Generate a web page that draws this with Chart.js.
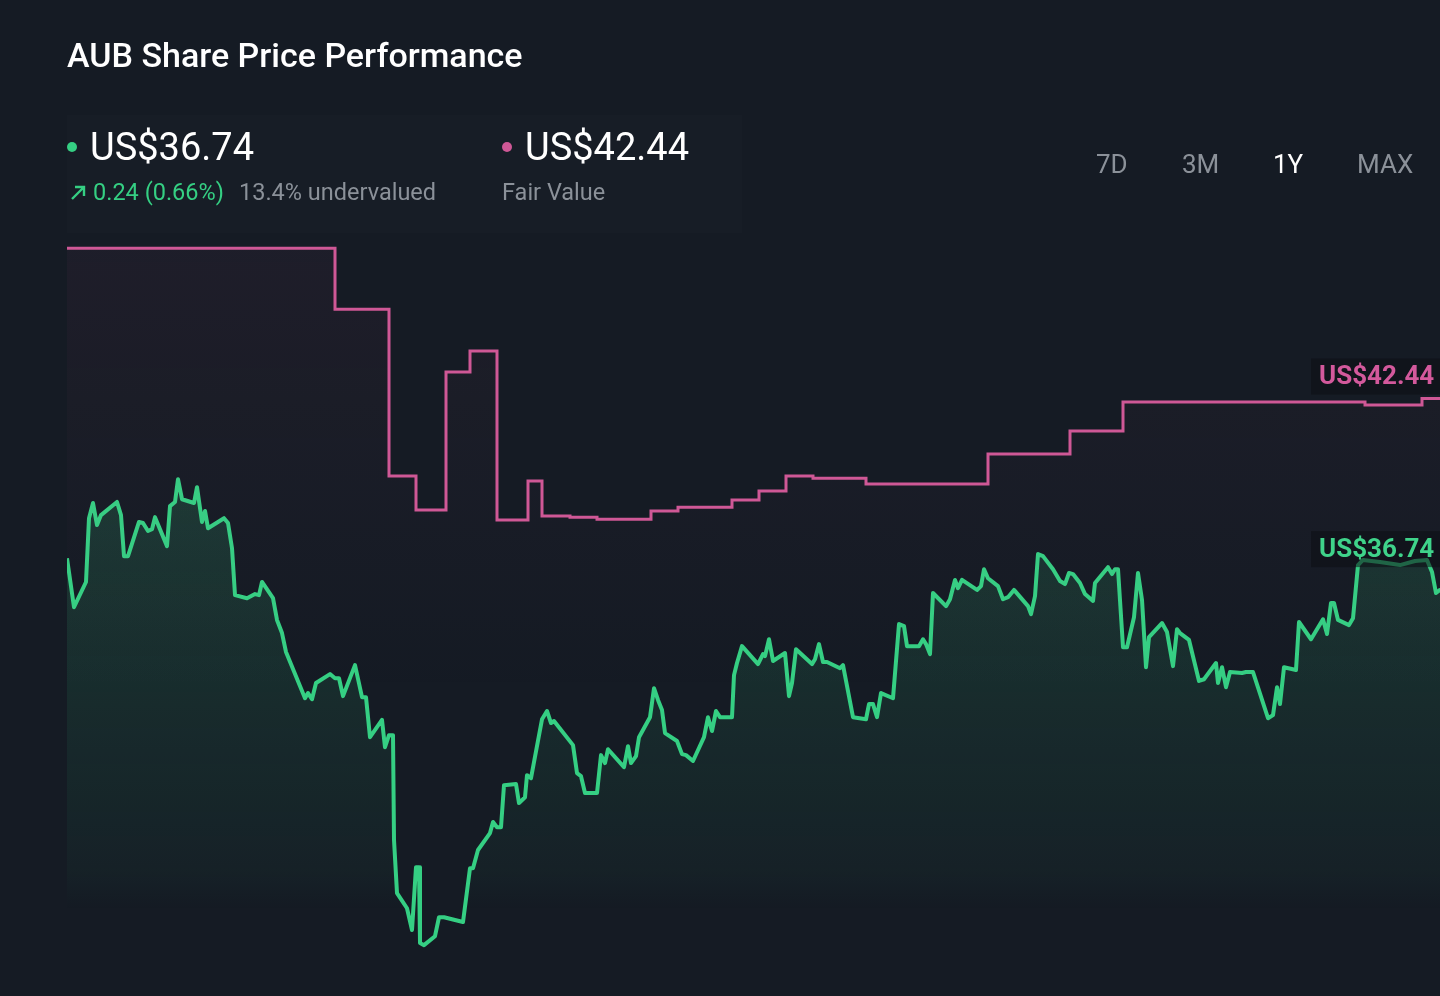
<!DOCTYPE html>
<html>
<head>
<meta charset="utf-8">
<script src="https://cdn.jsdelivr.net/npm/chart.js@4.4.1/dist/chart.umd.min.js"></script>
<style>
  html, body { margin:0; padding:0; background:#151b24; overflow:hidden; }
  body { width:1440px; height:996px; position:relative; font-family: Roboto, "Noto Sans", sans-serif; }
  #wrap { position:absolute; left:0; top:0; width:1440px; height:996px; overflow:hidden; }
  #chart { position:absolute; left:0; top:0; }
  .t { position:absolute; white-space:nowrap; }
  #title { left:67px; top:34px; font-size:34px; font-weight:500; color:#ffffff; line-height:42px; }
  #panel { position:absolute; left:67px; top:115px; width:675px; height:118px; background:rgba(255,255,255,0.012); }
  .big { font-size:38px; color:#ffffff; line-height:44px; top:125px; }
  .sub { font-size:23.5px; line-height:28px; top:178px; }
  .dot { position:absolute; width:10px; height:10px; border-radius:50%; }
  .tab { font-size:26px; line-height:30px; top:149px; color:#8b9199; }
</style>
</head>
<body>
<div id="wrap">
  <canvas id="chart" width="1470" height="1000"></canvas>
  <div id="panel"></div>
  <div class="t" id="title">AUB Share Price Performance</div>

  <div class="dot" style="left:67px;top:142px;background:#35cf83;"></div>
  <div class="t big" style="left:90px;">US$36.74</div>
  <svg style="position:absolute;left:70px;top:184px;" width="17" height="17" viewBox="0 0 17 17">
    <path d="M2 15 L14 3 M5 3 L14 3 L14 12" stroke="#35cf83" stroke-width="2.4" fill="none"/>
  </svg>
  <div class="t sub" style="left:93px;color:#35cf83;">0.24 (0.66%)</div>
  <div class="t sub" style="left:239px;color:#8b9199;">13.4% undervalued</div>

  <div class="dot" style="left:502px;top:142px;background:#cf5896;"></div>
  <div class="t big" style="left:525px;">US$42.44</div>
  <div class="t sub" style="left:502px;color:#8b9199;">Fair Value</div>

  <div class="t tab" style="left:1096px;">7D</div>
  <div class="t tab" style="left:1182px;">3M</div>
  <div class="t tab" style="left:1273px;color:#ffffff;">1Y</div>
  <div class="t tab" style="left:1357px;">MAX</div>
</div>
<script>
// Session index (≈ trading days over the year shown)
const priceDays = [0,1.4,3.8,4.4,5.2,6.0,6.8,10,10.8,11.4,12.2,14.4,15.2,16.2,17,17.6,20,20.6,21.6,22.2,23,25.4,26,27,27.6,28.2,31.4,32.2,33,33.6,36,37.6,38.4,39,41.2,42,43,43.8,47.6,48.2,49,49.8,52.6,53.6,54.4,55.2,57.6,59,59.8,60.6,63,63.6,64.4,65.2,65.4,66,68,69,69.8,70.4,70.6,71.4,73.6,74.4,75.4,79.2,80.6,81.2,82.2,84.6,85.2,86,86.8,87.4,89.8,90.4,91.6,92,92.8,95,96,96.8,97.4,101.2,102,102.8,103.6,106,106.8,107.6,108.2,111.4,112.2,112.8,113.8,114.4,116.6,117.4,118.2,119,119.6,122,123,123.8,125.2,127.4,128.2,129,129.8,130.6,133,133.4,134,135,138.2,139.2,139.6,140.4,141.2,143.6,144.4,145,145.8,149,149.6,150.4,151.2,152,154.6,155.2,157.2,159.8,160.4,161.2,162,162.8,165.2,166.4,167.4,168,170.4,171.2,171.8,172.6,173.2,175.8,176.6,177.6,178.2,179,182,182.8,183.4,184.2,186.2,187.2,188.2,189.4,192.2,192.8,193.6,194.2,195.2,197.2,198.6,199.6,200.4,201.2,202.6,203.6,205.2,205.6,208.2,209,209.6,210.2,211.2,212,213.4,214.2,215,215.8,216.4,219,220,221.2,222,222.6,224.4,226.4,227.4,229.8,230.2,231,231.8,232.6,235,235.8,237.2,240.2,241.2,242,242.6,243.4,245.8,246.4,248.8,251.2,252,252.8,253.4,254.2,256.4,257.2,258.2,259.2,262.6,266.6,269.6,272,273,273.8,274.6,277];
const priceValues = [37.81,36.39,37.12,38.97,39.41,38.77,39.06,39.44,39.06,37.87,37.87,38.86,38.83,38.60,38.65,39.00,38.16,39.32,39.44,40.10,39.52,39.41,39.87,38.86,39.18,38.68,38.97,38.83,38.10,36.74,36.65,36.77,36.74,37.12,36.65,36.02,35.64,35.09,33.75,33.90,33.72,34.19,34.45,34.33,34.33,33.81,34.71,33.78,33.78,32.62,33.12,32.33,32.68,32.68,29.64,28.10,27.66,27.03,28.85,28.85,26.65,26.59,26.85,27.40,27.40,27.26,28.82,28.82,29.35,29.84,30.16,30.01,30.01,31.23,31.26,30.71,30.88,31.52,31.43,33.14,33.38,33.03,33.09,32.39,31.58,31.49,31.00,31.00,32.10,31.87,32.27,31.75,32.36,31.87,32.07,32.62,33.20,34.04,33.70,33.41,32.74,32.51,32.13,32.10,31.93,32.62,33.20,32.80,33.38,33.20,33.20,34.42,34.77,35.26,34.74,35.03,34.97,35.46,34.83,35.06,33.81,34.19,35.17,34.74,34.88,35.32,34.80,34.80,34.62,34.71,33.20,33.14,33.58,33.58,33.20,33.90,33.75,35.90,35.84,35.26,35.26,35.46,35.32,35.03,36.80,36.42,36.62,37.18,36.94,37.18,36.89,37.00,37.49,37.23,37.00,36.62,36.68,36.89,36.42,36.19,36.71,37.93,37.87,37.49,37.15,37.06,37.38,37.35,37.09,36.77,36.57,37.09,37.55,37.35,37.49,37.49,35.23,35.23,36.10,37.38,36.60,34.65,35.52,35.93,35.67,34.68,35.75,35.64,35.44,34.25,34.30,34.77,34.19,34.65,34.07,34.51,34.48,34.51,34.51,33.17,33.26,34.07,33.58,34.65,34.57,35.96,35.46,36.04,35.61,36.51,36.51,36.02,35.87,36.07,37.61,37.76,37.70,37.61,37.73,37.76,37.41,36.80,36.89,36.74];

const fairDays = [0,53.6,64.4,69.8,75.8,80.6,86,92.2,95,100.6,106,116.8,122.2,133,138.4,143.8,149.2,159.8,184.2,200.6,211.2,259.6,271,277];
const fairValues = [46.80,45.03,40.19,39.21,43.21,43.82,38.92,40.05,39.03,39.00,38.94,39.18,39.29,39.50,39.76,40.19,40.13,39.96,40.83,41.50,42.34,42.25,42.44,42.44];

const lastPrice = 36.74;
const lastFair = 42.44;
const priceLabel = 'US$36.74';
const fairLabel = 'US$42.44';

const GREEN = '#35cf83';
const PINK = '#cf5896';

const pricePts = priceDays.map((d, i) => ({ x: d, y: priceValues[i] }));
const fairPts = fairDays.map((d, i) => ({ x: d, y: fairValues[i] }));

function priceFill(ctx) {
  const c = ctx.chart.ctx;
  const g = c.createLinearGradient(0, 470, 0, 910);
  g.addColorStop(0, 'rgba(53,207,131,0.17)');
  g.addColorStop(0.9, 'rgba(53,207,131,0.04)');
  g.addColorStop(1, 'rgba(53,207,131,0)');
  return g;
}
function fairFill(ctx) {
  const c = ctx.chart.ctx;
  const g = c.createLinearGradient(0, 245, 0, 700);
  g.addColorStop(0, 'rgba(207,88,150,0.05)');
  g.addColorStop(1, 'rgba(207,88,150,0)');
  return g;
}

const endLabels = {
  id: 'endLabels',
  afterDatasetsDraw(chart) {
    const c = chart.ctx;
    const ys = chart.scales.y;
    const items = [
      { text: fairLabel, color: '#d3599c', cy: ys.getPixelForValue(lastFair) - 22 },
      { text: priceLabel, color: '#3fd38a', cy: ys.getPixelForValue(lastPrice) - 46 }
    ];
    c.save();
    c.font = 'bold 26px Roboto';
    c.textBaseline = 'middle';
    items.forEach(it => {
      const w = c.measureText(it.text).width;
      c.fillStyle = 'rgba(12,15,20,0.55)';
      c.fillRect(1311, it.cy - 18, w + 20, 36);
      c.fillStyle = it.color;
      c.fillText(it.text, 1319, it.cy + 1);
    });
    c.restore();
  }
};

new Chart(document.getElementById('chart'), {
  type: 'line',
  data: {
    datasets: [
      {
        label: 'Fair Value',
        data: fairPts,
        borderColor: PINK,
        borderWidth: 3,
        stepped: true,
        pointRadius: 0,
        fill: 'start',
        backgroundColor: fairFill
      },
      {
        label: 'Share Price',
        data: pricePts,
        borderColor: GREEN,
        borderWidth: 4,
        tension: 0,
        pointRadius: 0,
        borderJoinStyle: 'round',
        fill: 'start',
        backgroundColor: priceFill
      }
    ]
  },
  options: {
    responsive: false,
    devicePixelRatio: 1,
    animation: false,
    layout: { padding: { left: 67, right: 18, top: 224, bottom: 0 } },
    plugins: { legend: { display: false }, tooltip: { enabled: false } },
    scales: {
      x: { type: 'linear', min: 0, max: 277, display: false },
      y: { type: 'linear', min: 25, max: 47.5, display: false }
    }
  },
  plugins: [endLabels]
});
</script>
</body>
</html>
